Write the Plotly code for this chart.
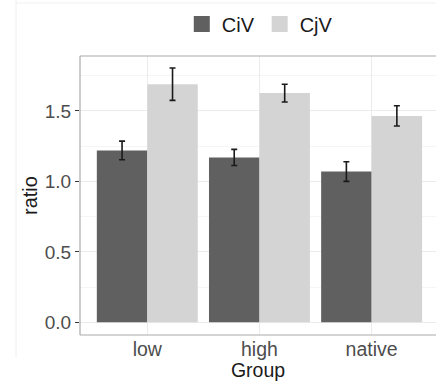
import plotly.graph_objects as go

groups = ["low", "high", "native"]
series_names = ["CiV", "CjV"]
civ_vals = [1.22, 1.17, 1.07]
civ_err = [0.066, 0.057, 0.070]
cjv_vals = [1.69, 1.627, 1.465]
cjv_err = [0.115, 0.063, 0.072]
colors = ["#606060", "#d4d4d4"]

fig = go.Figure()
for name, vals, errs, col in [(series_names[0], civ_vals, civ_err, colors[0]),
                              (series_names[1], cjv_vals, cjv_err, colors[1])]:
    fig.add_trace(go.Bar(
        x=groups, y=vals, name=name, marker_color=col, marker_line_width=0,
        error_y=dict(type="data", array=errs, color="#1a1a1a", thickness=1.6, width=3),
        showlegend=False,
    ))
    fig.add_trace(go.Scatter(
        x=[None], y=[None], mode="markers", name=name,
        marker=dict(symbol="square", size=17, color=col), showlegend=True,
    ))

font_family = "Liberation Sans, Arial, sans-serif"
fig.update_layout(
    width=436, height=382,
    margin=dict(l=80, r=0, t=56, b=47, autoexpand=False),
    paper_bgcolor="white", plot_bgcolor="white",
    barmode="group", bargap=0.1, bargroupgap=0,
    font=dict(family=font_family, size=19, color="#4d4d4d"),
    legend=dict(orientation="h", x=0.505, xanchor="center", y=1.045, yanchor="bottom",
                font=dict(size=20, color="#1a1a1a"),
                itemsizing="trace", itemwidth=30, traceorder="normal",
                bgcolor="rgba(0,0,0,0)", tracegroupgap=0),
    xaxis=dict(
        range=[-0.6, 2.574], showgrid=True, gridcolor="#ebebeb", gridwidth=1,
        ticks="", tickfont=dict(size=19.5, color="#4d4d4d"), automargin=False,
        title=dict(text="Group", font=dict(size=19.5, color="#1a1a1a"), standoff=0),
        zeroline=False, showline=False,
    ),
    yaxis=dict(
        range=[-0.09, 1.89], tickvals=[0, 0.5, 1.0, 1.5],
        ticktext=["0.0", "0.5", "1.0", "1.5"], automargin=False,
        showgrid=True, gridcolor="#ebebeb", gridwidth=1.2,
        minor=dict(tickvals=[0.25, 0.75, 1.25, 1.75], showgrid=True, gridcolor="#f5f5f5", gridwidth=1),
        ticks="outside", ticklen=4, tickcolor="#333333", tickwidth=1,
        tickfont=dict(size=19, color="#4d4d4d"),
        title=dict(text="ratio", font=dict(size=20, color="#1a1a1a"), standoff=1),
        zeroline=False, showline=False,
    ),
    shapes=[
        dict(type="line", xref="paper", yref="paper", x0=0, x1=1.02, y0=1, y1=1,
             line=dict(color="#aaaaaa", width=1.2)),
        dict(type="line", xref="paper", yref="paper", x0=0, x1=1.02, y0=0, y1=0,
             line=dict(color="#aaaaaa", width=1.2)),
        dict(type="line", xref="paper", yref="paper", x0=0, x1=0, y0=0, y1=1,
             line=dict(color="#aaaaaa", width=1.2)),
        dict(type="line", xref="paper", yref="paper", x0=-0.1797, x1=-0.1797, y0=-0.08, y1=1.2,
             line=dict(color="#eeeeee", width=1)),
        dict(type="line", xref="paper", yref="paper", x0=-0.1797, x1=1.05, y0=1.19, y1=1.19,
             line=dict(color="#f0f0f0", width=1)),
    ],
)
fig.write_html("out.html", config={"displayModeBar": False},
               post_script="document.body.style.margin='0';document.body.style.padding='0';")
